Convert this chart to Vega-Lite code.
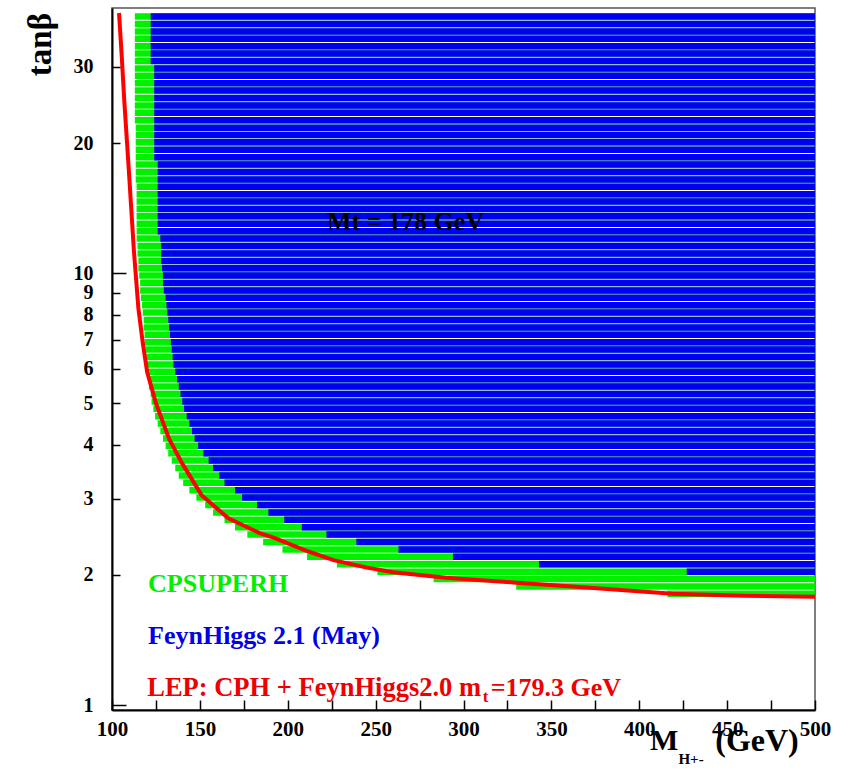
{
  "$schema": "https://vega.github.io/schema/vega-lite/v6.json",
  "width": 703,
  "height": 702,
  "autosize": {"type": "none"},
  "padding": {"left": 112, "top": 8, "right": 30, "bottom": 59},
  "background": "white",
  "config": {"view": {"stroke": "#555", "strokeWidth": 1.5}},
  "datasets": {
    "rows": [
      {"t": 1.809, "g": 416, "b": null},
      {"t": 1.882, "g": 330, "b": null},
      {"t": 1.957, "g": 283, "b": null},
      {"t": 2.036, "g": 251, "b": 427},
      {"t": 2.118, "g": 228, "b": 343},
      {"t": 2.203, "g": 211, "b": 294},
      {"t": 2.292, "g": 197, "b": 263},
      {"t": 2.385, "g": 186, "b": 239},
      {"t": 2.480, "g": 177, "b": 222},
      {"t": 2.579, "g": 170, "b": 208},
      {"t": 2.683, "g": 164, "b": 198},
      {"t": 2.792, "g": 157.5, "b": 189},
      {"t": 2.904, "g": 153, "b": 182.5},
      {"t": 3.021, "g": 148, "b": 174},
      {"t": 3.142, "g": 144, "b": 170},
      {"t": 3.269, "g": 140.5, "b": 164},
      {"t": 3.400, "g": 138, "b": 161},
      {"t": 3.537, "g": 136, "b": 157.5},
      {"t": 3.680, "g": 134, "b": 155},
      {"t": 3.828, "g": 132, "b": 152},
      {"t": 3.982, "g": 130.5, "b": 149},
      {"t": 4.142, "g": 129, "b": 147},
      {"t": 4.308, "g": 127.5, "b": 145.5},
      {"t": 4.482, "g": 126, "b": 144},
      {"t": 4.662, "g": 124.5, "b": 142.5},
      {"t": 4.850, "g": 123.5, "b": 141},
      {"t": 5.045, "g": 122.5, "b": 140},
      {"t": 5.247, "g": 122, "b": 139},
      {"t": 5.459, "g": 121, "b": 138},
      {"t": 5.679, "g": 120.5, "b": 137},
      {"t": 5.907, "g": 120, "b": 136},
      {"t": 6.145, "g": 119.5, "b": 135},
      {"t": 6.392, "g": 119.5, "b": 134.5},
      {"t": 6.649, "g": 119, "b": 134},
      {"t": 6.917, "g": 118.5, "b": 133.5},
      {"t": 7.196, "g": 118.5, "b": 133},
      {"t": 7.484, "g": 118, "b": 132.5},
      {"t": 7.786, "g": 118, "b": 132},
      {"t": 8.099, "g": 117.5, "b": 131.5},
      {"t": 8.426, "g": 117, "b": 131},
      {"t": 8.764, "g": 116.5, "b": 130.5},
      {"t": 9.117, "g": 116, "b": 129.5},
      {"t": 9.483, "g": 116, "b": 129},
      {"t": 9.865, "g": 115.5, "b": 129},
      {"t": 10.26, "g": 115, "b": 128.5},
      {"t": 10.67, "g": 115, "b": 128},
      {"t": 11.10, "g": 114.5, "b": 128},
      {"t": 11.55, "g": 114.5, "b": 128},
      {"t": 12.02, "g": 114, "b": 127.5},
      {"t": 12.50, "g": 114, "b": 126},
      {"t": 13.00, "g": 114, "b": 126},
      {"t": 13.53, "g": 114, "b": 126},
      {"t": 14.07, "g": 114, "b": 126},
      {"t": 14.64, "g": 114, "b": 126},
      {"t": 15.22, "g": 114, "b": 126},
      {"t": 15.84, "g": 114, "b": 126},
      {"t": 16.47, "g": 113.5, "b": 126},
      {"t": 17.14, "g": 113.5, "b": 126},
      {"t": 17.83, "g": 113.5, "b": 126},
      {"t": 18.54, "g": 113.5, "b": 124},
      {"t": 19.29, "g": 113.5, "b": 124},
      {"t": 20.07, "g": 113.5, "b": 124},
      {"t": 20.87, "g": 113.5, "b": 124},
      {"t": 21.71, "g": 113.5, "b": 124},
      {"t": 22.59, "g": 113, "b": 124},
      {"t": 23.50, "g": 113, "b": 124},
      {"t": 24.44, "g": 113, "b": 124},
      {"t": 25.43, "g": 113, "b": 124},
      {"t": 26.45, "g": 113, "b": 124},
      {"t": 27.51, "g": 113, "b": 124},
      {"t": 28.62, "g": 113, "b": 124},
      {"t": 29.77, "g": 113, "b": 124},
      {"t": 30.97, "g": 113, "b": 122},
      {"t": 32.22, "g": 113, "b": 122},
      {"t": 33.51, "g": 113, "b": 122},
      {"t": 34.86, "g": 113, "b": 122},
      {"t": 36.26, "g": 113, "b": 122},
      {"t": 37.72, "g": 113, "b": 122},
      {"t": 39.24, "g": 113, "b": 122}
    ],
    "lep": [
      {"m": 104, "t": 40},
      {"m": 105.5, "t": 32},
      {"m": 107, "t": 25},
      {"m": 109.5, "t": 17.5},
      {"m": 112.5, "t": 11.2},
      {"m": 115, "t": 8.3},
      {"m": 117.5, "t": 6.9},
      {"m": 120, "t": 5.9},
      {"m": 125, "t": 5.0},
      {"m": 132.5, "t": 4.13},
      {"m": 140, "t": 3.62},
      {"m": 151, "t": 3.06},
      {"m": 166, "t": 2.71},
      {"m": 184, "t": 2.5},
      {"m": 192, "t": 2.44},
      {"m": 210, "t": 2.28},
      {"m": 226, "t": 2.165},
      {"m": 245, "t": 2.08},
      {"m": 260, "t": 2.03},
      {"m": 290, "t": 1.97},
      {"m": 330, "t": 1.92},
      {"m": 362, "t": 1.88},
      {"m": 419, "t": 1.81},
      {"m": 460, "t": 1.79},
      {"m": 500, "t": 1.78}
    ],
    "notes": [
      {"m": 120.5, "t": 1.83, "text": "CPSUPERH", "kind": "cps"},
      {"m": 120.5, "t": 1.381, "text": "FeynHiggs 2.1 (May)", "kind": "fh"},
      {"m": 310, "t": 1.048, "text": "LEP: CPH + FeynHiggs2.0 m", "kind": "lep1"},
      {"m": 311, "t": 1.016, "text": "t", "kind": "lepsub"},
      {"m": 315.5, "t": 1.048, "text": "=179.3 GeV", "kind": "lep2"},
      {"m": 222.3, "t": 12.59, "text": "Mt = 178 GeV", "kind": "mt"},
      {"m": 406.1, "t": 0.786, "text": "M", "kind": "xt"},
      {"m": 422.3, "t": 0.73, "text": "H+-", "kind": "xsub"},
      {"m": 467, "t": 0.783, "text": "(GeV)", "kind": "xunit"},
      {"m": 59.6, "t": 33.8, "text": "tanβ", "kind": "yt"}
    ]
  },
  "layer": [
    {
      "data": {"name": "rows"},
      "mark": {"type": "bar", "orient": "horizontal", "size": 6.5, "color": "#00f000"},
      "encoding": {
        "x": {
          "field": "g", "type": "quantitative",
          "scale": {"domain": [100, 500], "nice": false, "zero": false},
          "axis": {
            "title": null, "zindex": 1,
            "values": [100, 125, 150, 175, 200, 225, 250, 275, 300, 325, 350, 375, 400, 425, 450, 475, 500],
            "labelExpr": "datum.value % 50 === 0 ? datum.label : ''",
            "grid": false, "domainColor": "#000", "domainWidth": 2,
            "tickColor": "#000", "tickWidth": 1.5, "tickSize": -10,
            "labelPadding": 18, "labelFlush": false, "labelOverlap": false, "labelBound": false,
            "labelFont": "Liberation Serif", "labelFontWeight": "bold", "labelFontSize": 21, "labelColor": "#000"
          }
        },
        "x2": {"datum": 500},
        "y": {
          "field": "t", "type": "quantitative",
          "scale": {"type": "log", "domain": [1, 40], "nice": false},
          "axis": {
            "title": null, "zindex": 1,
            "values": [1, 2, 3, 4, 5, 6, 7, 8, 9, 10, 20, 30],
            "format": "d",
            "grid": false, "domainColor": "#000", "domainWidth": 2,
            "tickColor": "#000", "tickWidth": 1.5,
            "tickSize": {"condition": {"test": "datum.value === 1 || datum.value === 10", "value": -14}, "value": -8},
            "labelPadding": {"condition": {"test": "datum.value === 1 || datum.value === 10", "value": 33}, "value": 27},
            "labelFlush": false, "labelOverlap": false, "labelBound": false,
            "labelFont": "Liberation Serif", "labelFontWeight": "bold", "labelFontSize": 20, "labelColor": "#000"
          }
        }
      }
    },
    {
      "data": {"name": "rows"},
      "transform": [{"filter": "datum.b != null"}],
      "mark": {"type": "bar", "orient": "horizontal", "size": 6.5, "color": "#0000f0"},
      "encoding": {
        "x": {"field": "b", "type": "quantitative", "scale": {"domain": [100, 500], "nice": false, "zero": false}, "axis": {"title": null}},
        "x2": {"datum": 500},
        "y": {"field": "t", "type": "quantitative", "scale": {"type": "log", "domain": [1, 40], "nice": false}, "axis": {"title": null}}
      }
    },
    {
      "mark": {"type": "rule", "color": "#80ff80", "strokeWidth": 2, "strokeDash": [2, 5.5]},
      "encoding": {
        "x": {"datum": 366, "type": "quantitative", "scale": {"domain": [100, 500], "nice": false, "zero": false}, "axis": {"title": null}},
        "y": {"datum": 2.04, "type": "quantitative", "scale": {"type": "log", "domain": [1, 40], "nice": false}, "axis": {"title": null}},
        "y2": {"datum": 40}
      }
    },
    {
      "data": {"name": "lep"},
      "mark": {"type": "line", "color": "#ff0000", "strokeWidth": 4},
      "encoding": {
        "x": {"field": "m", "type": "quantitative", "scale": {"domain": [100, 500], "nice": false, "zero": false}, "axis": {"title": null}},
        "y": {"field": "t", "type": "quantitative", "scale": {"type": "log", "domain": [1, 40], "nice": false}, "axis": {"title": null}}
      }
    },
    {
      "data": {"name": "notes"},
      "transform": [{"filter": "datum.kind === 'cps'"}],
      "mark": {"type": "text", "align": "left", "baseline": "alphabetic", "font": "Liberation Serif", "fontWeight": "bold", "fontSize": 26, "color": "#00ee00"},
      "encoding": {
        "x": {"field": "m", "type": "quantitative", "axis": {"title": null}},
        "y": {"field": "t", "type": "quantitative", "axis": {"title": null}},
        "text": {"field": "text"}
      }
    },
    {
      "data": {"name": "notes"},
      "transform": [{"filter": "datum.kind === 'fh'"}],
      "mark": {"type": "text", "align": "left", "baseline": "alphabetic", "font": "Liberation Serif", "fontWeight": "bold", "fontSize": 26, "color": "#0000e6"},
      "encoding": {
        "x": {"field": "m", "type": "quantitative", "axis": {"title": null}},
        "y": {"field": "t", "type": "quantitative", "axis": {"title": null}},
        "text": {"field": "text"}
      }
    },
    {
      "data": {"name": "notes"},
      "transform": [{"filter": "datum.kind === 'lep1'"}],
      "mark": {"type": "text", "align": "right", "baseline": "alphabetic", "font": "Liberation Serif", "fontWeight": "bold", "fontSize": 26.5, "color": "#ee0000"},
      "encoding": {
        "x": {"field": "m", "type": "quantitative", "axis": {"title": null}},
        "y": {"field": "t", "type": "quantitative", "axis": {"title": null}},
        "text": {"field": "text"}
      }
    },
    {
      "data": {"name": "notes"},
      "transform": [{"filter": "datum.kind === 'lepsub'"}],
      "mark": {"type": "text", "align": "left", "baseline": "alphabetic", "font": "Liberation Serif", "fontWeight": "bold", "fontSize": 17, "color": "#ee0000"},
      "encoding": {
        "x": {"field": "m", "type": "quantitative", "axis": {"title": null}},
        "y": {"field": "t", "type": "quantitative", "axis": {"title": null}},
        "text": {"field": "text"}
      }
    },
    {
      "data": {"name": "notes"},
      "transform": [{"filter": "datum.kind === 'lep2'"}],
      "mark": {"type": "text", "align": "left", "baseline": "alphabetic", "font": "Liberation Serif", "fontWeight": "bold", "fontSize": 26, "color": "#ee0000"},
      "encoding": {
        "x": {"field": "m", "type": "quantitative", "axis": {"title": null}},
        "y": {"field": "t", "type": "quantitative", "axis": {"title": null}},
        "text": {"field": "text"}
      }
    },
    {
      "data": {"name": "notes"},
      "transform": [{"filter": "datum.kind === 'mt'"}],
      "mark": {"type": "text", "align": "left", "baseline": "alphabetic", "font": "Liberation Serif", "fontWeight": "bold", "fontSize": 26, "color": "#000000"},
      "encoding": {
        "x": {"field": "m", "type": "quantitative", "axis": {"title": null}},
        "y": {"field": "t", "type": "quantitative", "axis": {"title": null}},
        "text": {"field": "text"}
      }
    },
    {
      "data": {"name": "notes"},
      "transform": [{"filter": "datum.kind === 'xt'"}],
      "mark": {"type": "text", "align": "left", "baseline": "alphabetic", "font": "Liberation Serif", "fontWeight": "bold", "fontSize": 30, "color": "#000000"},
      "encoding": {
        "x": {"field": "m", "type": "quantitative", "axis": {"title": null}},
        "y": {"field": "t", "type": "quantitative", "axis": {"title": null}},
        "text": {"field": "text"}
      }
    },
    {
      "data": {"name": "notes"},
      "transform": [{"filter": "datum.kind === 'xsub'"}],
      "mark": {"type": "text", "align": "left", "baseline": "alphabetic", "font": "Liberation Serif", "fontWeight": "bold", "fontSize": 15, "color": "#000000"},
      "encoding": {
        "x": {"field": "m", "type": "quantitative", "axis": {"title": null}},
        "y": {"field": "t", "type": "quantitative", "axis": {"title": null}},
        "text": {"field": "text"}
      }
    },
    {
      "data": {"name": "notes"},
      "transform": [{"filter": "datum.kind === 'xunit'"}],
      "mark": {"type": "text", "align": "center", "baseline": "alphabetic", "font": "Liberation Serif", "fontWeight": "bold", "fontSize": 32, "color": "#000000"},
      "encoding": {
        "x": {"field": "m", "type": "quantitative", "axis": {"title": null}},
        "y": {"field": "t", "type": "quantitative", "axis": {"title": null}},
        "text": {"field": "text"}
      }
    },
    {
      "data": {"name": "notes"},
      "transform": [{"filter": "datum.kind === 'yt'"}],
      "mark": {"type": "text", "align": "center", "baseline": "middle", "angle": 270, "font": "Liberation Serif", "fontWeight": "bold", "fontSize": 33, "color": "#000000"},
      "encoding": {
        "x": {"field": "m", "type": "quantitative", "axis": {"title": null}},
        "y": {"field": "t", "type": "quantitative", "axis": {"title": null}},
        "text": {"field": "text"}
      }
    }
  ]
}
